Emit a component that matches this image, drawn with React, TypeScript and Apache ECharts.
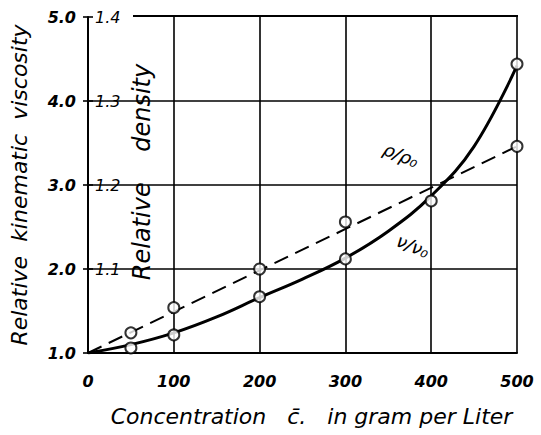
import React, { useEffect, useRef } from "react";
import * as echarts from "echarts";

// Concentration of the measured samples (gram per liter)
const concentration = [50, 100, 200, 300, 400, 500];
// Relative kinematic viscosity ν/ν0 (measured circles)
const viscosityObs = [1.06, 1.215, 1.67, 2.12, 2.81, 4.44];
// Relative density ρ/ρ0 (measured circles); no sample at 400
const densityObs = [1.024, 1.054, 1.1, 1.156, null, 1.246];
// Drawn viscosity curve
const curveConc = [0, 50, 100, 150, 200, 250, 300, 350, 400, 450, 500];
const curveVisc = [1.0, 1.1, 1.24, 1.43, 1.66, 1.88, 2.13, 2.45, 2.87, 3.46, 4.42];
// Drawn density line (dashed)
const lineConc = [0, 500];
const lineDens = [1.0, 1.246];
// Tick labels
const xTicks = [0, 100, 200, 300, 400, 500];
const viscTicks = ["1.0", "2.0", "3.0", "4.0", "5.0"];
const densTicks = ["1.0", "1.1", "1.2", "1.3", "1.4"];

const FONT = "DejaVu Sans";

export default function App() {
  const ref = useRef<HTMLDivElement>(null);
  useEffect(() => {
    if (!ref.current) return;
    const chart = echarts.init(ref.current, null, { renderer: "svg" });
    const circle = {
      symbol: "circle",
      symbolSize: 11,
      itemStyle: { color: "#fff", borderColor: "#000", borderWidth: 2 },
    };
    chart.setOption({
      animation: false,
      backgroundColor: "#fff",
      grid: { left: 87, right: 24, top: 17, bottom: 82, show: false },
      xAxis: {
        type: "value",
        min: 0,
        max: 500,
        interval: 100,
        axisLine: { show: true, lineStyle: { color: "#000", width: 2 } },
        axisTick: { show: false },
        splitLine: { show: true, showMaxLine: true, lineStyle: { color: "#000", width: 1.6 } },
        axisLabel: {
          margin: 20,
          color: "#000",
          fontFamily: FONT,
          fontStyle: "italic",
          fontWeight: 600,
          fontSize: 16,
          formatter: (v: number) => (xTicks.includes(v) ? String(v) : ""),
        },
        name: "Concentration   c\u0304.   in gram per Liter",
        nameLocation: "middle",
        nameGap: 52,
        nameTextStyle: { color: "#000", fontFamily: FONT, fontStyle: "italic", fontSize: 22, padding: [0, 0, 0, 18] },
      },
      yAxis: [
        {
          type: "value",
          min: 1,
          max: 5,
          interval: 1,
          position: "left",
          axisLine: { show: true, lineStyle: { color: "#000", width: 2 } },
          axisTick: { show: true, length: 5, lineStyle: { color: "#000", width: 1.6 } },
          splitLine: { show: true, showMaxLine: false, lineStyle: { color: "#000", width: 1.6 } },
          axisLabel: {
            margin: 12,
            color: "#000",
            fontFamily: FONT,
            fontStyle: "italic",
            fontWeight: 600,
            fontSize: 16,
            formatter: (v: number) => viscTicks[Math.round(v - 1)] ?? "",
          },
          name: "Relative  kinematic  viscosity",
          nameLocation: "middle",
          nameGap: 58,
          nameTextStyle: { color: "#000", fontFamily: FONT, fontStyle: "italic", fontSize: 22 },
        },
        {
          type: "value",
          min: 1.0,
          max: 1.4,
          interval: 0.1,
          position: "left",
          axisLine: { show: false },
          axisTick: { show: true, inside: true, length: 5, lineStyle: { color: "#000", width: 1.6 } },
          splitLine: { show: false },
          axisLabel: {
            inside: true,
            margin: 7,
            color: "#000",
            fontFamily: FONT,
            fontStyle: "italic",
            fontSize: 16,
            formatter: (v: number) => {
              const i = Math.round((v - 1) * 10);
              return i === 0 ? "" : densTicks[i] ?? "";
            },
          },
        },
      ],
      graphic: [
        {
          type: "line",
          shape: { x1: 133, y1: 16, x2: 518, y2: 16 },
          style: { stroke: "#000", lineWidth: 2 },
        },
        {
          type: "text",
          x: 142,
          y: 172,
          rotation: Math.PI / 2,
          style: {
            text: "Relative    density",
            fill: "#000",
            font: `italic 24px "${FONT}"`,
            textAlign: "center",
            textVerticalAlign: "middle",
          },
        },
        {
          type: "text",
          x: 401,
          y: 155,
          rotation: -0.4,
          style: { text: "\u03c1/\u03c1\u2080", fill: "#000", font: `italic 18px "${FONT}"`, textAlign: "center", textVerticalAlign: "middle" },
        },
        {
          type: "text",
          x: 413,
          y: 246,
          rotation: -0.4,
          style: { text: "\u03bd/\u03bd\u2080", fill: "#000", font: `italic 18px "${FONT}"`, textAlign: "center", textVerticalAlign: "middle" },
        },
      ],
      series: [
        {
          name: "density line",
          type: "line",
          yAxisIndex: 1,
          data: lineConc.map((c, i) => [c, lineDens[i]]),
          showSymbol: false,
          lineStyle: { color: "#000", width: 2, type: [15, 8] },
          z: 3,
        },
        {
          name: "viscosity curve",
          type: "line",
          yAxisIndex: 0,
          smooth: 0.4,
          data: curveConc.map((c, i) => [c, curveVisc[i]]),
          showSymbol: false,
          lineStyle: { color: "#000", width: 3 },
          z: 3,
        },
        {
          name: "density",
          type: "scatter",
          yAxisIndex: 1,
          data: concentration
            .map((c, i) => [c, densityObs[i]])
            .filter((d) => d[1] !== null),
          ...circle,
          z: 5,
        },
        {
          name: "viscosity",
          type: "scatter",
          yAxisIndex: 0,
          data: concentration.map((c, i) => [c, viscosityObs[i]]),
          ...circle,
          z: 5,
        },
      ],
    });
    return () => chart.dispose();
  }, []);
  return (
    <div
      ref={ref}
      style={{ position: "absolute", left: 0, top: 0, width: 541, height: 435 }}
    />
  );
}
